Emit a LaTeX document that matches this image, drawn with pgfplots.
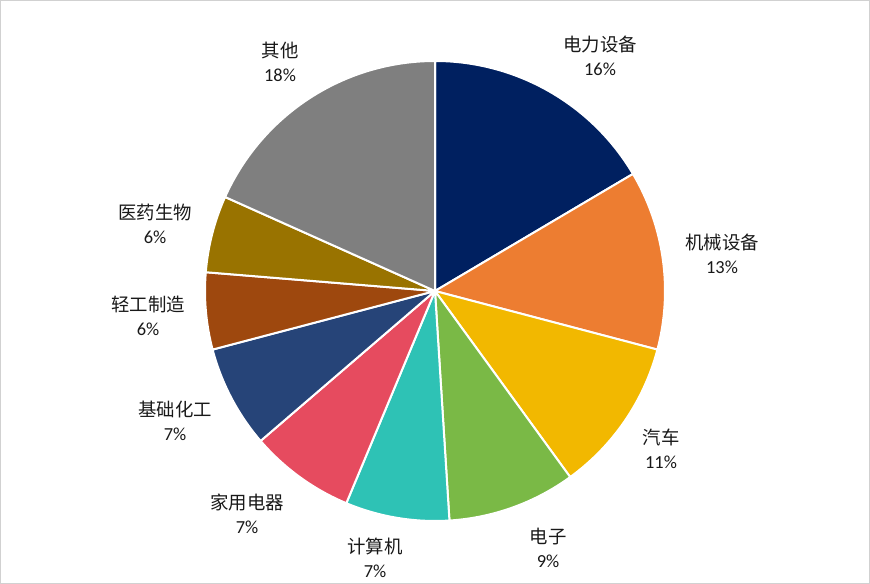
\documentclass[border=0pt]{standalone}
\usepackage{pgfplots}
\usepackage{pgfplotstable}
\pgfplotsset{compat=1.18}
\usepackage{fontspec}
\setmainfont{Carlito}
\newfontfamily\cjk{Noto Sans CJK SC}
\definecolor{slice0}{HTML}{002060}
\definecolor{slice1}{HTML}{ED7D31}
\definecolor{slice2}{HTML}{F2B800}
\definecolor{slice3}{HTML}{7AB946}
\definecolor{slice4}{HTML}{2EC2B5}
\definecolor{slice5}{HTML}{E64B5F}
\definecolor{slice6}{HTML}{264478}
\definecolor{slice7}{HTML}{9E480E}
\definecolor{slice8}{HTML}{997300}
\definecolor{slice9}{HTML}{7F7F7F}
\pgfplotstableread{
name pct
电力设备 16.5
机械设备 12.6
汽车 10.9
电子 9.0
计算机 7.3
家用电器 7.4
基础化工 7.2
轻工制造 5.4
医药生物 5.4
其他 18.3
}\piedata
\begin{document}
\begin{tikzpicture}
\gdef\cum{0}
\foreach \i in {0,...,9}{
  \pgfplotstablegetelem{\i}{pct}\of\piedata
  \let\v=\pgfplotsretval
  \pgfmathsetmacro\a{90-3.6*\cum}
  \pgfmathsetmacro\b{90-3.6*(\cum+\v)}
  \expandafter\xdef\csname sa\i\endcsname{\a}
  \expandafter\xdef\csname sb\i\endcsname{\b}
  \pgfmathsetmacro\c{\cum+\v}
  \xdef\cum{\c}
}
\begin{axis}[
  width=652.5pt, height=438pt, scale only axis,
  xmin=0, xmax=870, ymin=0, ymax=584,
  hide axis, clip=false,
]
\draw[color=black!18, line width=0.75pt] (axis cs:0.5,0.5) rectangle (axis cs:869.5,583.5);
\pgfplotsinvokeforeach{0,...,9}{
  \fill[slice#1, draw=white, line width=1.5pt, line join=round]
    (axis cs:435,293) -- ++(\csname sa#1\endcsname:172.5pt)
    arc[start angle=\csname sa#1\endcsname, end angle=\csname sb#1\endcsname, radius=172.5pt] -- cycle;
}
\tikzset{lab/.style={align=center, font=\fontsize{13.8}{18}\selectfont, text=black!90}}
\node[lab] at (axis cs:600,528) {{\cjk 电力设备}\\16\%};
\node[lab] at (axis cs:722,330) {{\cjk 机械设备}\\13\%};
\node[lab] at (axis cs:661,135) {{\cjk 汽车}\\11\%};
\node[lab] at (axis cs:548,36) {{\cjk 电子}\\9\%};
\node[lab] at (axis cs:375,26) {{\cjk 计算机}\\7\%};
\node[lab] at (axis cs:247,70) {{\cjk 家用电器}\\7\%};
\node[lab] at (axis cs:175,163) {{\cjk 基础化工}\\7\%};
\node[lab] at (axis cs:148,268) {{\cjk 轻工制造}\\6\%};
\node[lab] at (axis cs:155,360) {{\cjk 医药生物}\\6\%};
\node[lab] at (axis cs:280,522) {{\cjk 其他}\\18\%};
\end{axis}
\end{tikzpicture}
\end{document}
